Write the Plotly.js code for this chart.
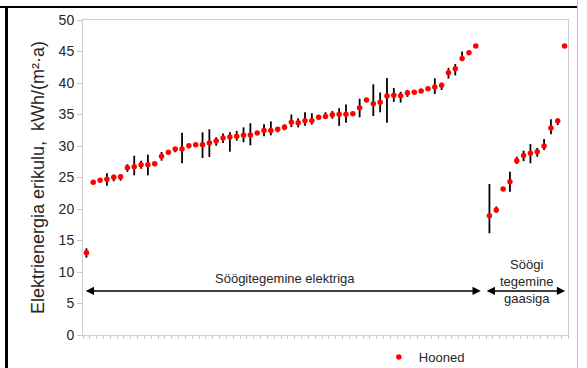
<!DOCTYPE html>
<html>
<head>
<meta charset="utf-8">
<script src="https://cdn.plot.ly/plotly-3.0.1.min.js"></script>
<style>
html,body{margin:0;padding:0;background:#fff;}
#wrap{position:relative;width:587px;height:368px;overflow:hidden;}
#chart{position:absolute;left:0;top:0;width:587px;height:368px;}
.ln{position:absolute;}
</style>
</head>
<body>
<div id="wrap">
<div id="chart"></div>
<div class="ln" style="left:0;top:6px;width:578px;height:2px;background:#000;"></div>
<div class="ln" style="left:5px;top:6px;width:3px;height:362px;background:#000;"></div>
<div class="ln" style="left:577px;top:0;width:1px;height:368px;background:#c8c8c8;"></div>
</div>
<script>
// Electricity-cooking buildings: value, upper and lower bound of the range bar
const elecValues = [13.06,24.23,24.55,24.71,25.03,25.13,26.56,26.7,27.03,27.03,27.19,28.36,29.0,29.52,29.52,30.05,30.21,30.21,30.48,30.8,31.27,31.43,31.53,31.7,31.75,32.06,32.48,32.48,32.65,32.96,33.76,33.7,34.0,34.0,34.55,34.7,34.97,35.03,35.03,35.13,36.08,37.3,36.7,36.93,37.94,38.05,37.98,38.41,38.52,38.73,39.1,39.37,39.63,41.64,42.27,43.9,44.8,45.87];
const elecHigh = [13.76,null,null,25.67,25.45,25.5,27.1,28.46,27.67,28.62,null,29.05,null,29.84,32.1,null,null,32.17,32.65,31.38,32.0,32.2,32.4,32.96,33.6,null,33.44,33.9,32.96,33.44,35.0,34.4,35.35,35.2,null,35.35,35.55,36.0,36.6,35.44,37.5,null,39.8,38.5,40.8,39.2,38.6,38.9,null,null,null,40.75,40.05,42.4,43.0,45.0,null,null];
const elecLow = [12.27,null,null,23.7,24.4,24.5,25.9,25.35,26.4,25.35,null,27.67,null,29.0,27.25,null,null,28.1,28.25,30.05,30.48,29.1,30.85,30.6,30.1,null,31.54,31.7,32.17,32.5,33.0,32.96,33.2,33.4,null,34.3,34.33,33.2,33.7,34.8,34.55,null,34.76,35.35,33.7,37.0,36.9,37.8,null,null,null,38.25,38.9,40.7,41.2,43.55,null,null];
// Gas-cooking buildings
const gasValues = [18.94,19.84,23.17,24.34,27.67,28.5,28.83,29.1,30.0,32.86,33.97,45.87];
const gasHigh = [23.97,20.4,null,25.9,28.3,29.25,30.3,29.7,31.1,34.24,34.4,null];
const gasLow = [16.14,19.4,null,22.75,27.14,27.6,27.25,28.3,29.37,31.86,33.33,null];

const seriesName = 'Hooned';
const yTitle = 'Elektrienergia erikulu,  kWh/(m²·a)';
const groupElecLabel = 'Söögitegemine elektriga';
const groupGasLabel = 'Söögi<br>tegemine<br>gaasiga';

// positions: electric group, one empty slot, gas group
const elecX = elecValues.map((_, i) => i + 1);
const gasX = gasValues.map((_, i) => elecValues.length + 2 + i);
const nSlots = elecValues.length + 1 + gasValues.length;

const xs = elecX.concat(gasX);
const ys = elecValues.concat(gasValues);
const hi = elecHigh.concat(gasHigh);
const lo = elecLow.concat(gasLow);
const plus = ys.map((v, i) => hi[i] == null ? 0 : +(hi[i] - v).toFixed(3));
const minus = ys.map((v, i) => lo[i] == null ? 0 : +(v - lo[i]).toFixed(3));

const tickPos = [];
for (let i = 0; i <= nSlots; i++) tickPos.push(i + 0.5);

const trace = {
  type: 'scatter', mode: 'markers', name: seriesName,
  x: xs, y: ys,
  marker: {color: '#ff0000', size: 5.5},
  error_y: {type: 'data', symmetric: false, array: plus, arrayminus: minus,
            color: '#000000', thickness: 1.8, width: 0},
  showlegend: true
};

const font = {family: 'Liberation Sans, Arial, sans-serif', color: '#262626'};
const elecEnd = elecValues.length + 1.0;
const layout = {
  width: 587, height: 368,
  margin: {l: 83, r: 19, t: 20, b: 33},
  paper_bgcolor: 'rgba(0,0,0,0)', plot_bgcolor: '#ffffff',
  font: Object.assign({size: 13}, font),
  showlegend: true,
  legend: {orientation: 'h', x: 0.61, xanchor: 'left', yref: 'container', y: 0.03, yanchor: 'middle',
           font: Object.assign({size: 13}, font), bgcolor: 'rgba(0,0,0,0)'},
  xaxis: {range: [0.5, nSlots + 0.5], showgrid: false, zeroline: false,
          showline: true, linecolor: '#d0d0d0', linewidth: 1, mirror: true,
          tickmode: 'array', tickvals: tickPos, ticks: 'outside', ticklen: 3,
          tickcolor: '#c8c8c8', showticklabels: false},
  yaxis: {range: [0, 50], dtick: 5, tick0: 0, showgrid: false, zeroline: false,
          showline: true, linecolor: '#d0d0d0', linewidth: 1, mirror: true,
          ticks: 'outside', ticklen: 5, tickcolor: '#c8c8c8',
          tickfont: Object.assign({size: 14}, font),
          title: {text: yTitle, font: Object.assign({size: 18}, font), standoff: 9}},
  annotations: [
    {x: 0.9, y: 7, ax: elecEnd - 0.05, ay: 7, xref: 'x', yref: 'y', axref: 'x', ayref: 'y',
     text: '', showarrow: true, arrowhead: 2, arrowside: 'end+start', arrowsize: 1.1,
     arrowwidth: 1.5, arrowcolor: '#000'},
    {x: elecEnd + 0.6, y: 7, ax: nSlots + 0.3, ay: 7, xref: 'x', yref: 'y', axref: 'x', ayref: 'y',
     text: '', showarrow: true, arrowhead: 2, arrowside: 'end+start', arrowsize: 1.1,
     arrowwidth: 1.5, arrowcolor: '#000'},
    {x: 30.05, y: 8.9, xref: 'x', yref: 'y', text: groupElecLabel, showarrow: false,
     font: Object.assign({size: 13}, font)},
    {x: 65.46, y: 8.57, xref: 'x', yref: 'y', text: groupGasLabel, showarrow: false,
     font: Object.assign({size: 13}, font)}
  ]
};

Plotly.newPlot('chart', [trace], layout, {displayModeBar: false, staticPlot: true});
</script>
</body>
</html>
